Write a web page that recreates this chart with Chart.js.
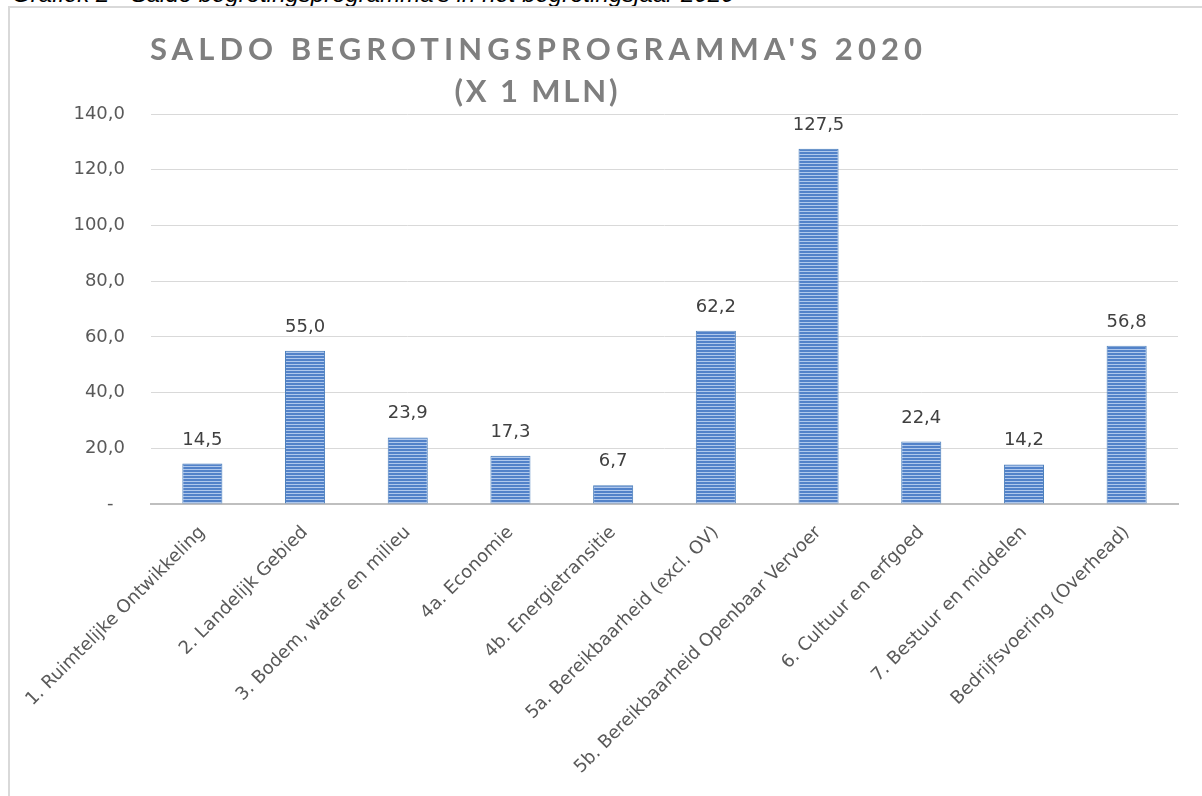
<!DOCTYPE html>
<html>
<head>
<meta charset="utf-8">
<script src="https://cdn.jsdelivr.net/npm/chart.js@4.4.0/dist/chart.umd.min.js"></script>
<style>
  body { margin: 0; background: #fff; overflow: hidden; }
  #caption {
    position: absolute; left: 12px; top: -20px;
    font: italic 24px "Liberation Sans", Arial, sans-serif; color: #000;
    white-space: nowrap;
  }
  #frame {
    position: absolute; left: 8px; top: 6px; width: 1194px; height: 790px;
    border-left: 2px solid #d9d9d9; border-top: 2px solid #d9d9d9;
    background: #fff;
  }
  #grafiek { display: block; }
</style>
</head>
<body>
<div id="caption">Grafiek 2 - Saldo begrotingsprogramma's in het begrotingsjaar 2020</div>
<div id="frame"><canvas id="grafiek" width="1192" height="788"></canvas></div>
<script>
// programma's en saldo (x 1 mln)
const programmas = [
  '1. Ruimtelijke Ontwikkeling',
  '2. Landelijk Gebied',
  '3. Bodem, water en milieu',
  '4a. Economie',
  '4b. Energietransitie',
  '5a. Bereikbaarheid (excl. OV)',
  '5b. Bereikbaarheid Openbaar Vervoer',
  '6. Cultuur en erfgoed',
  '7. Bestuur en middelen',
  'Bedrijfsvoering (Overhead)'
];
const saldo = [14.5, 55.0, 23.9, 17.3, 6.7, 62.2, 127.5, 22.4, 14.2, 56.8];
const yTicks = [0, 20, 40, 60, 80, 100, 120, 140];

const titel = "SALDO BEGROTINGSPROGRAMMA'S 2020";
const subtitel = '(X 1 MLN)';

function komma(v) {
  return v.toFixed(1).replace('.', ',');
}

// gestreepte vulling zoals in excel
function streepjes() {
  var c = document.createElement('canvas');
  c.width = 4; c.height = 3;
  var g = c.getContext('2d');
  g.fillStyle = '#5282c9';
  g.fillRect(0, 0, 4, 3);
  g.fillStyle = '#afc8ec';
  g.fillRect(0, 2, 4, 1);
  return g.createPattern(c, 'repeat');
}

// tekst met letterafstand zodat hij een bepaalde breedte krijgt
function spreid(ctx, tekst, x, y, breedte) {
  ctx.letterSpacing = '0px';
  var w = ctx.measureText(tekst).width;
  var sp = (breedte - w) / (tekst.length - 1);
  ctx.letterSpacing = sp + 'px';
  ctx.fillText(tekst, x + sp / 2, y);
  ctx.letterSpacing = '0px';
}

const titelPlugin = {
  id: 'titelPlugin',
  afterDraw(chart) {
    var ctx = chart.ctx;
    ctx.save();
    ctx.fillStyle = '#7f7f7f';
    ctx.font = 'bold 31px Lato';
    ctx.textAlign = 'center';
    ctx.textBaseline = 'middle';
    spreid(ctx, titel, 526, 42, 772);
    spreid(ctx, subtitel, 526, 84, 163);
    ctx.restore();
  }
};

const labelPlugin = {
  id: 'labelPlugin',
  afterDatasetsDraw(chart) {
    var ctx = chart.ctx;
    var meta = chart.getDatasetMeta(0);
    ctx.save();
    ctx.fillStyle = '#404040';
    ctx.font = '18px "DejaVu Sans"';
    ctx.textAlign = 'center';
    ctx.textBaseline = 'alphabetic';
    meta.data.forEach(function(bar, i) {
      ctx.fillText(komma(saldo[i]), bar.x, bar.y - 19);
    });
    ctx.restore();
  }
};

const ctx = document.getElementById('grafiek').getContext('2d');
const myChart = new Chart(ctx, {
  type: 'bar',
  data: {
    labels: programmas,
    datasets: [{
      label: 'Saldo',
      data: saldo,
      backgroundColor: streepjes(),
      borderColor: '#4a7ebb',
      borderWidth: 1,
      barPercentage: 0.39,
      categoryPercentage: 1.0
    }]
  },
  options: {
    responsive: false,
    animation: false,
    layout: { padding: { top: 106, right: 24, left: 0, bottom: 0 } },
    plugins: {
      legend: { display: false },
      tooltip: { enabled: false }
    },
    scales: {
      x: {
        grid: { display: false, drawTicks: false },
        border: { display: true, color: '#bfbfbf', width: 2 },
        ticks: {
          autoSkip: false,
          minRotation: 45,
          maxRotation: 45,
          padding: 18,
          color: '#595959',
          font: { family: 'DejaVu Sans', size: 18 }
        },
        afterFit: function(scale) {
          scale.height = 292;
          scale.paddingLeft = 0;
          scale.paddingRight = 0;
        }
      },
      y: {
        min: 0,
        max: 140,
        afterBuildTicks: function(scale) {
          scale.ticks = yTicks.map(function(v) { return { value: v }; });
        },
        grid: { color: '#d9d9d9', lineWidth: 1, drawTicks: false },
        border: { display: false },
        ticks: {
          padding: 26,
          color: '#595959',
          font: { family: 'DejaVu Sans', size: 18 },
          callback: function(v) { return v === 0 ? '-  ' : komma(v); }
        },
        afterFit: function(scale) { scale.width = 141; }
      }
    }
  },
  plugins: [titelPlugin, labelPlugin]
});
</script>
</body>
</html>
